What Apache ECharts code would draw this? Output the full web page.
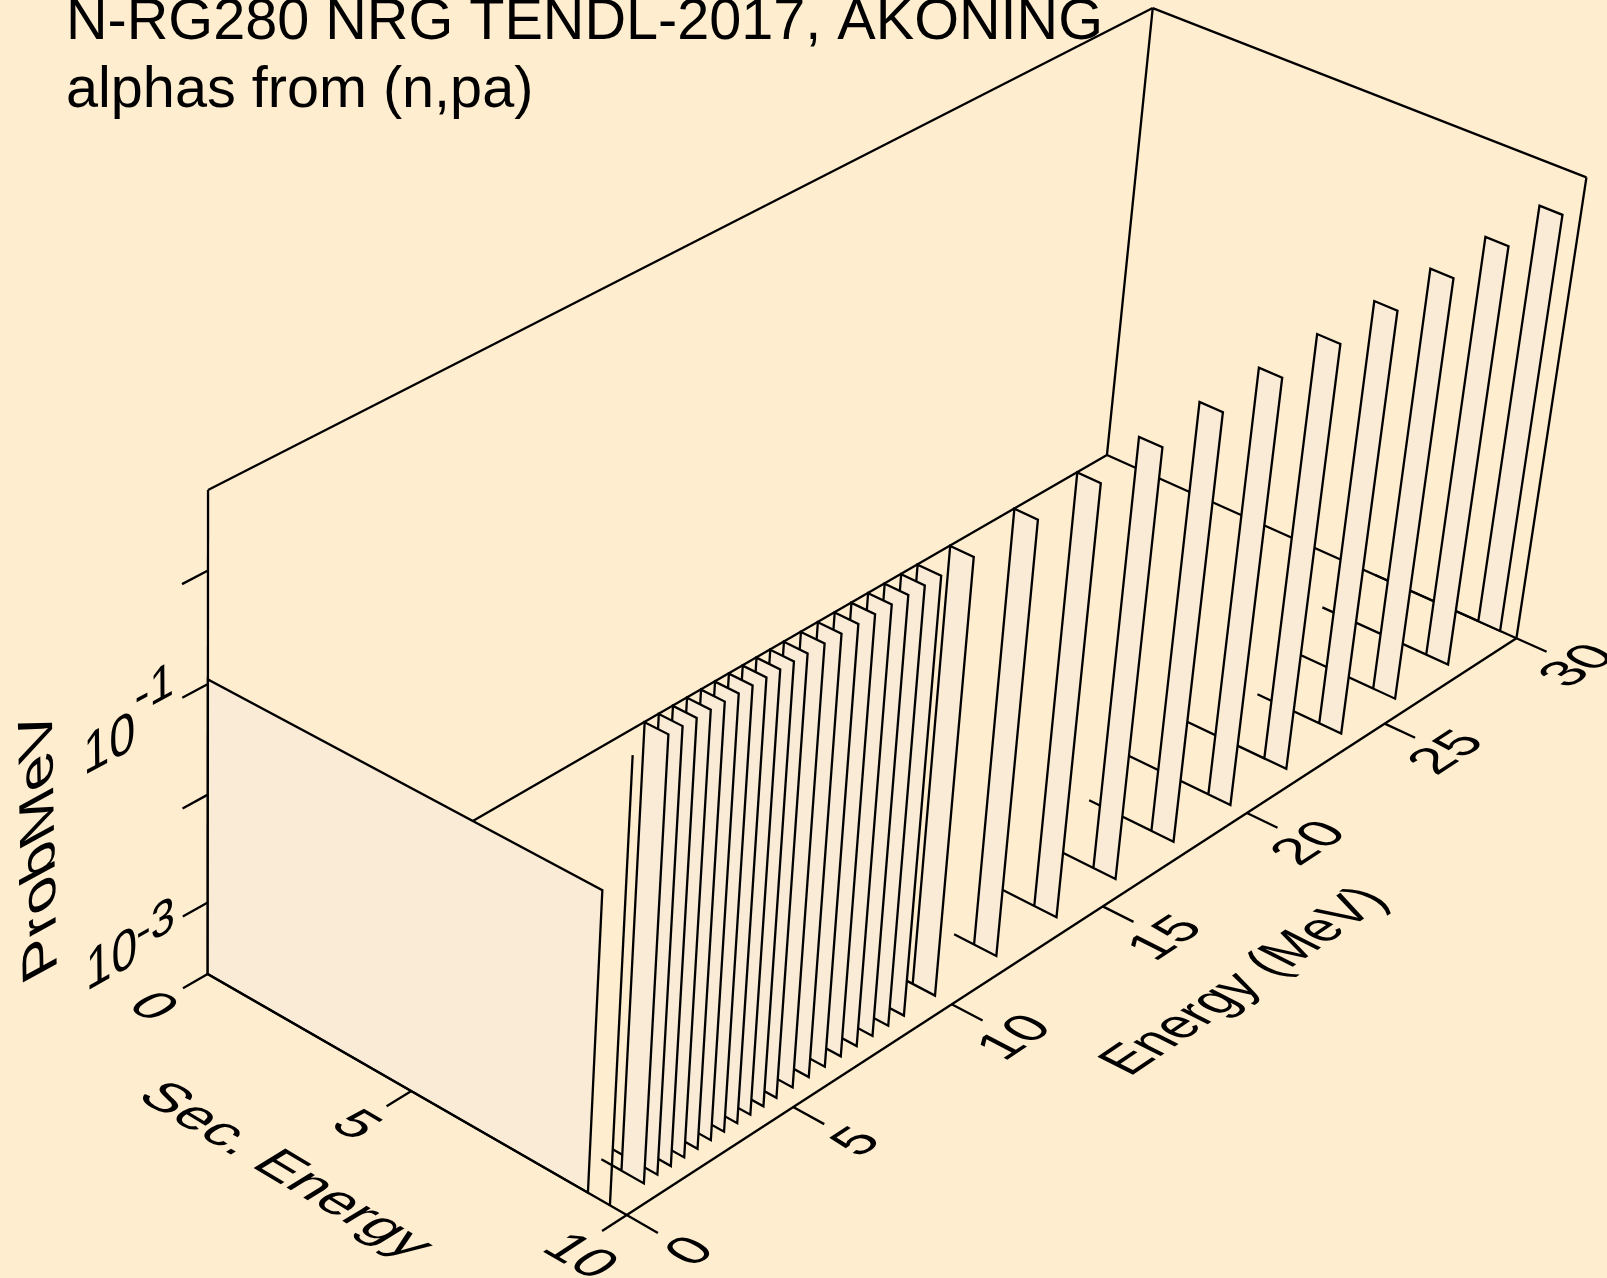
<!DOCTYPE html>
<html><head><meta charset="utf-8">
<style>html,body{margin:0;padding:0;background:#FFEDD0}#c{width:1607px;height:1278px}</style>
<script src="https://cdn.jsdelivr.net/npm/echarts@6/dist/echarts.min.js"></script>
</head><body><div id="c"></div>
<script>
// ---- data ----
const titleLines = ['N-RG280 NRG TENDL-2017, AKONING', 'alphas from (n,pa)'];
const incidentEnergy = [1,1.4,1.8,2.2,2.6,3,3.4,3.8,4.2,4.6,5,5.5,6,6.5,7,7.5,8,8.5,9,10,12,14,16,18,20,22,24,26,28,30];
const tailStart = [8.65,8.62,8.65,8.65,8.65,8.65,8.65,8.65,8.65,8.65,8.65,8.65,8.65,8.65,8.65,8.65,8.65,8.65,8.65,8.65,8.65,7.9,7.9,7.66,7,7,7.66,7,6.65,6.65];
const secLow = [9.11,9.11,9.11,9.11,9.11,9.11,9.11,9.11,9.11,9.11,9.11,9.11,9.11,9.11,9.11,9.11,9.11,9.11,9.11,9.11,9.11,9.11,9.11,9.11,9.11,9.11,9.11,9.11,9.11,9.11];
const secHigh = [9.62,9.62,9.62,9.62,9.62,9.62,9.62,9.62,9.62,9.62,9.62,9.62,9.62,9.62,9.62,9.62,9.62,9.62,9.62,9.62,9.62,9.62,9.62,9.62,9.62,9.62,9.62,9.62,9.62,9.62];
const probTop = [1.97,1.97,1.97,1.97,1.97,1.97,1.97,1.97,1.97,1.97,1.97,1.97,1.97,1.97,1.97,1.97,1.97,1.97,1.97,1.97,1.97,1.97,1.97,1.97,1.97,1.97,1.97,1.97,1.97,1.97];
const lowPanel = {energy:0, secFrom:0, secTo:9.12, prob:0.11};
const lowSpike = {energy:0, sec:9.62, prob:1.97};
const energyTicks = [0,5,10,15,20,25,30];
const secTicks = [0,5,10];
const probTickExp = [-3,-2,-1,0];
const probLabelExp = [-3,-1];

// ---- viewing box and perspective ----
const E_MAX = 30, S_MAX = 10, LOG_MIN = -3.679, LOG_MAX = 0.695;
const VIEW = {o:[207.7,974,1], u:[1057,-454.2,0.1425], v:[384.7,174.4,-0.0548], w:[-11.1,-511,-0.055]};
function project(e, s, lz){
  const a=e/E_MAX, b=s/S_MAX, c=(lz-LOG_MIN)/(LOG_MAX-LOG_MIN);
  const h=[0,1,2].map(i=>VIEW.o[i]+a*VIEW.u[i]+b*VIEW.v[i]+c*VIEW.w[i]);
  return [h[0]/h[2], h[1]/h[2]];
}
const INK='#000', BG='#FFEDD0', FILL='#FAEBD7', LW=2.3, FONT='"Liberation Sans", Arial, sans-serif';
const lineStyle={stroke:INK,lineWidth:LW,fill:null,lineCap:'butt'};

function seg(api,p,q){
  const A=api.coord(project(p[0],p[1],p[2])),B=api.coord(project(q[0],q[1],q[2]));
  return {type:'line',shape:{x1:A[0],y1:A[1],x2:B[0],y2:B[1]},style:lineStyle};
}
const backEdges=[
 [[0,0,LOG_MIN],[0,0,LOG_MAX]],
 [[0,0,LOG_MAX],[E_MAX,0,LOG_MAX]],
 [[E_MAX,0,LOG_MAX],[E_MAX,S_MAX,LOG_MAX]],
 [[E_MAX,S_MAX,LOG_MAX],[E_MAX,S_MAX,LOG_MIN]],
 [[E_MAX,0,LOG_MAX],[E_MAX,0,LOG_MIN]],
 [[E_MAX,0,LOG_MIN],[E_MAX,S_MAX,LOG_MIN]],
 [[0,0,LOG_MIN],[E_MAX,0,LOG_MIN]]
];
const frontEdges=[
 [[0,0,LOG_MIN],[0,S_MAX,LOG_MIN]],
 [[0,S_MAX,LOG_MIN],[E_MAX,S_MAX,LOG_MIN]]
];
const TICK_E=-0.72, TICK_S=0.7;
const tickSegs=[];
secTicks.forEach(s=>tickSegs.push([[0,s,LOG_MIN],[TICK_E,s,LOG_MIN]]));
energyTicks.forEach(e=>tickSegs.push([[e,S_MAX,LOG_MIN],[e,S_MAX+TICK_S,LOG_MIN]]));
probTickExp.forEach(z=>tickSegs.push([[0,0,z],[TICK_E,0,z]]));

const DIRS={E:[1,0,0],S:[0,1,0],Z:[0,0,1],mE:[-1,0,0],mS:[0,-1,0]};
function dirAt(p,d){
  const k=0.02;
  const q=[p[0]+d[0]*k*E_MAX,p[1]+d[1]*k*S_MAX,p[2]+d[2]*k*(LOG_MAX-LOG_MIN)];
  const A=project(p[0],p[1],p[2]),B=project(q[0],q[1],q[2]);
  const dx=B[0]-A[0],dy=B[1]-A[1],L=Math.hypot(dx,dy);
  return [dx/L,dy/L];
}
const labels=[];
function addLabel(text,p,base,up,emB,emU){labels.push({text,p,base,up,emB,emU});}
const E_OFF=1.45, S_OFF=-1.65, secNudge=[0.02,0,0.2];
secTicks.forEach((s,i)=>addLabel(String(s),[S_OFF,s+secNudge[i],LOG_MIN],'S','E',56,54));
energyTicks.forEach(e=>addLabel(String(e),[e,S_MAX+E_OFF,LOG_MIN],'E','mS',55,54));
addLabel('Sec. Energy',[-3.7,5.05,LOG_MIN],'S','E',58.5,54);
addLabel('Energy (MeV)',[14.9,S_MAX+3.27,LOG_MIN],'E','mS',51,58);
addLabel('ProbMeV',[-4.65,0,-1.62],'Z','mE',63.5,56);
const expNudge=[-0.04,-0.08], supNudge=[0.06,0.2];
probLabelExp.forEach((z,i)=>{
  addLabel('10',[-2.75,0,z+expNudge[i]],'E','Z',53,57);
  addLabel(String(z),[-1.5,0,z+supNudge[i]],'E','Z',50,50);
});

function textEl(api,l){
  const c=api.coord(project(l.p[0],l.p[1],l.p[2]));
  const b=dirAt(l.p,DIRS[l.base]), u=dirAt(l.p,DIRS[l.up]);
  const FS=50;
  const sx=l.emB/FS;
  const t2=-u[0]*l.emU/FS, t3=-u[1]*l.emU/FS;
  const rot=Math.atan2(-b[1],b[0]), ct=Math.cos(rot), st=Math.sin(rot);
  const cc=t2*ct-t3*st, dd=t2*st+t3*ct;
  return {type:'text',x:c[0],y:c[1],rotation:rot,scaleX:sx,scaleY:dd,skewX:Math.atan(cc/dd),
    style:{text:l.text,fontFamily:FONT,fontSize:FS,fill:INK,align:'center',verticalAlign:'middle'}};
}

const slabOrder=incidentEnergy.map((e,i)=>i).reverse();
const slabData=slabOrder.map(i=>[incidentEnergy[i],tailStart[i],secLow[i],secHigh[i],probTop[i]]);

const chart=echarts.init(document.getElementById('c'),null,{renderer:'canvas'});
function segSeries(list,z){
  return {type:'custom',coordinateSystem:'cartesian2d',silent:true,z,clip:false,animation:false,
    data:list.map((s,i)=>[i,0]),
    renderItem:(p,api)=>{const s=list[p.dataIndex];return seg(api,s[0],s[1]);}};
}
chart.setOption({
  animation:false,
  backgroundColor:BG,
  title:{text:titleLines.join('\n'),left:66,top:-11,padding:0,z:1,
    textStyle:{fontFamily:FONT,fontSize:57.6,fontWeight:'normal',color:INK,lineHeight:68}},
  grid:{left:0,right:0,top:0,bottom:0},
  xAxis:{type:'value',min:0,max:1607,show:false},
  yAxis:{type:'value',min:0,max:1278,inverse:true,show:false},
  series:[
    segSeries(backEdges,2),
    segSeries(tickSegs,2),
    {type:'custom',coordinateSystem:'cartesian2d',silent:true,z:3,clip:false,animation:false,
     data:slabData,
     renderItem:(p,api)=>{
       const e=api.value(0),t=api.value(1),lo=api.value(2),hi=api.value(3),lz=Math.log10(api.value(4));
       const pts=[[t,LOG_MIN],[lo,LOG_MIN],[lo,lz],[hi,lz],[hi,LOG_MIN]].map(q=>api.coord(project(e,q[0],q[1])));
       return {type:'polygon',shape:{points:pts},style:{fill:FILL,stroke:INK,lineWidth:LW,lineJoin:'miter'}};
     }},
    {type:'custom',coordinateSystem:'cartesian2d',silent:true,z:4,clip:false,animation:false,
     data:[[lowPanel.energy,lowPanel.secFrom,lowPanel.secTo,lowPanel.prob]],
     renderItem:(p,api)=>{
       const e=api.value(0),a=api.value(1),b=api.value(2),lz=Math.log10(api.value(3));
       const pts=[[a,LOG_MIN],[a,lz],[b,lz],[b,LOG_MIN]].map(q=>api.coord(project(e,q[0],q[1])));
       return {type:'polygon',shape:{points:pts},style:{fill:FILL,stroke:INK,lineWidth:LW,lineJoin:'miter'}};
     }},
    {type:'custom',coordinateSystem:'cartesian2d',silent:true,z:5,clip:false,animation:false,
     data:[[lowSpike.energy,lowSpike.sec,lowSpike.prob]],
     renderItem:(p,api)=>{
       const e=api.value(0),s=api.value(1),lz=Math.log10(api.value(2));
       return seg(api,[e,s,LOG_MIN],[e,s,lz]);
     }},
    segSeries(frontEdges,6),
    {type:'custom',coordinateSystem:'cartesian2d',silent:true,z:7,clip:false,animation:false,
     data:labels.map((l,i)=>[i,0]),
     renderItem:(p,api)=>textEl(api,labels[p.dataIndex])}
  ]
});
</script></body></html>
